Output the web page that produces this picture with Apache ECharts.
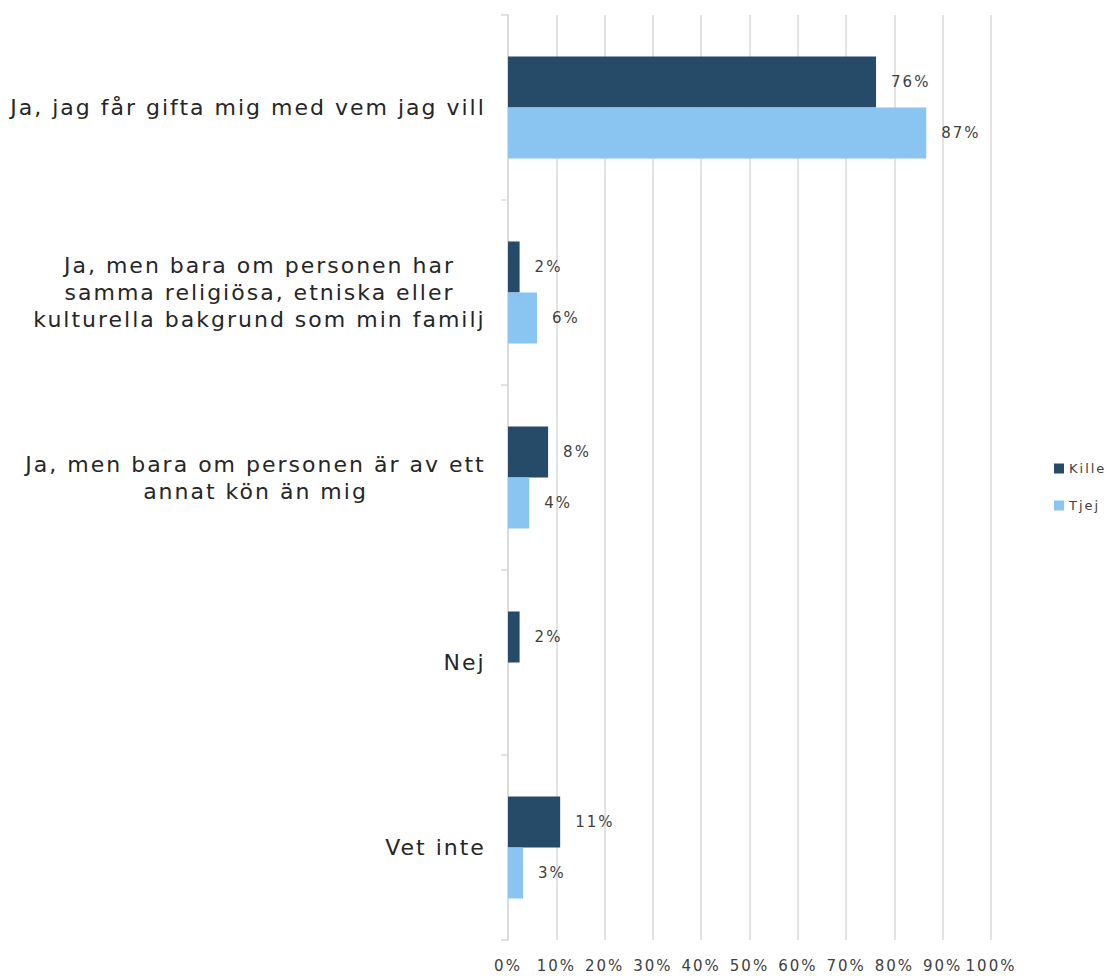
<!DOCTYPE html>
<html>
<head>
<meta charset="utf-8">
<script src="https://cdn.jsdelivr.net/npm/echarts@6/dist/echarts.min.js"></script>
<style>html,body{margin:0;padding:0;background:#fff}#c{width:1108px;height:976px}#c text{letter-spacing:2px}</style>
</head>
<body>
<div id="c"></div>
<script>
const categories = [
  "Ja, jag får gifta mig med vem jag vill",
  "Ja, men bara om personen har\nsamma religiösa, etniska eller\nkulturella bakgrund som min familj",
  "Ja, men bara om personen är av ett\nannat kön än mig",
  "Nej",
  "Vet inte"
];
const seriesNames = ["Kille", "Tjej"];
const kille = [76.2, 2.4, 8.3, 2.4, 10.8];
const tjej = [86.6, 6.0, 4.4, null, 3.1];
const xTicks = [0, 10, 20, 30, 40, 50, 60, 70, 80, 90, 100];

const FONT = "DejaVu Sans";
const LABEL_SIZE = 22;
const SPACING = 2;
const ctx = document.createElement('canvas').getContext('2d');
ctx.font = LABEL_SIZE + 'px "' + FONT + '"';
const rich = {};
categories.forEach((c, i) => {
  const w = Math.max(...c.split('\n').map(l => ctx.measureText(l).width + SPACING * l.length));
  rich['c' + i] = { width: Math.ceil(w), align: 'center', fontSize: LABEL_SIZE, fontFamily: FONT, color: '#262626', lineHeight: 27 };
});

const chart = echarts.init(document.getElementById('c'), null, { renderer: 'svg' });
const labelCfg = {
  show: true, position: 'right', distance: 15, color: '#404040',
  fontFamily: FONT, fontSize: 15,
  formatter: p => p.value == null ? '' : Math.round(p.value) + '%'
};
chart.setOption({
  animation: false,
  textStyle: { fontFamily: FONT },
  grid: { left: 508, right: 117, top: 15, bottom: 36, containLabel: false },
  legend: {
    orient: 'vertical', left: 1054, top: 462, padding: 0,
    itemWidth: 10, itemHeight: 10, itemGap: 24,
    icon: 'rect',
    textStyle: { fontSize: 13, color: '#404040', fontFamily: FONT },
    data: seriesNames
  },
  xAxis: {
    type: 'value', min: 0, max: 100, interval: 10,
    axisLine: { show: false }, axisTick: { show: false },
    splitLine: { show: true, lineStyle: { color: '#d9d9d9', width: 1.5 } },
    axisLabel: { formatter: v => v + '%', fontSize: 15, color: '#404040', fontFamily: FONT, margin: 18 }
  },
  yAxis: {
    type: 'category', inverse: true, data: categories,
    axisLine: { show: true, lineStyle: { color: '#d9d9d9', width: 1.5 } },
    axisTick: { show: true, length: 7, lineStyle: { color: '#d9d9d9', width: 1.5 } },
    axisLabel: {
      margin: 22, align: 'right',
      formatter: (v, i) => v.split('\n').map(l => '{c' + i + '|' + l + '}').join('\n'),
      rich: rich
    }
  },
  series: [
    { name: 'Kille', type: 'bar', data: kille, barWidth: 51, barGap: '0%', itemStyle: { color: '#264B68' }, label: labelCfg },
    { name: 'Tjej', type: 'bar', data: tjej, barWidth: 51, barGap: '0%', itemStyle: { color: '#89C5F0' }, label: labelCfg }
  ]
});
</script>
</body>
</html>
